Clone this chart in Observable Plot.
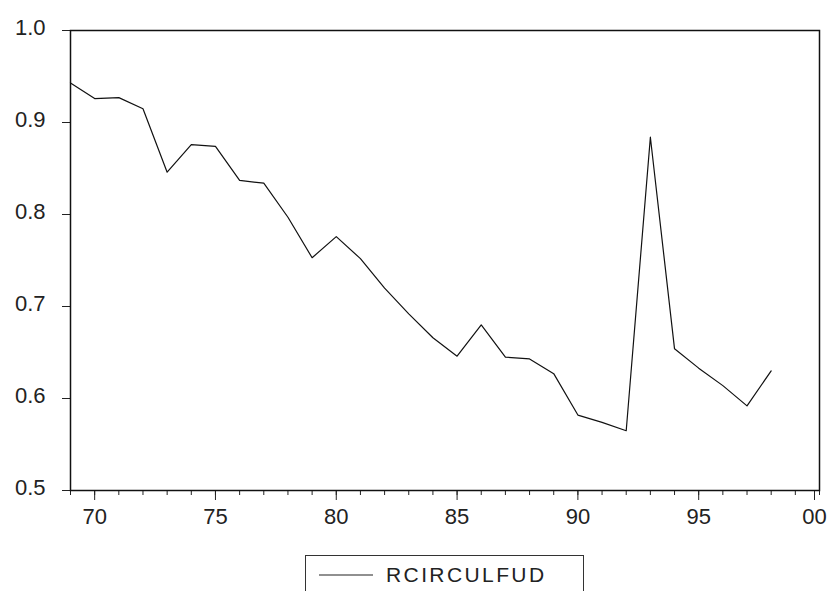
<!DOCTYPE html>
<html>
<head>
<meta charset="utf-8">
<script src="https://cdn.jsdelivr.net/npm/d3@7"></script>
<script src="https://cdn.jsdelivr.net/npm/@observablehq/plot@0.6"></script>
<style>
  html, body { margin: 0; padding: 0; background: #fff; }
  #wrap { position: relative; width: 829px; height: 591px; overflow: hidden; font-family: "Liberation Sans", Arial, sans-serif; }
  #chart svg { display: block; }
  #legend { position: absolute; left: 305px; top: 555px; width: 279px; height: 50px;
            border: 1px solid #333; border-bottom: none; box-sizing: border-box; }
  #legend svg { position: absolute; left: 13px; top: 14px; }
  #legend span { position: absolute; left: 80px; top: 7px; font-size: 21px; line-height: normal; color: #222; letter-spacing: 2.4px; white-space: nowrap; }
</style>
</head>
<body>
<div id="wrap"><div id="chart"></div>
<div id="legend"><svg width="56" height="10"><line x1="0" x2="54" y1="5" y2="5" stroke="#222" stroke-width="1.2"/></svg><span id="legtext"></span></div>
</div>
<script>
const years = [69,70,71,72,73,74,75,76,77,78,79,80,81,82,83,84,85,86,87,88,89,90,91,92,93,94,95,96,97,98];
const values = [0.943,0.926,0.927,0.915,0.846,0.876,0.874,0.837,0.834,0.797,0.753,0.776,0.752,0.720,0.692,0.666,0.646,0.680,0.645,0.643,0.627,0.582,0.574,0.565,0.884,0.654,0.633,0.614,0.592,0.630];
const seriesName = "RCIRCULFUD";
const minorTicks = [69,70,71,72,73,74,75,76,77,78,79,80,81,82,83,84,85,86,87,88,89,90,91,92,93,94,95,96,97,98,99,100];
const majorTicks = [70,75,80,85,90,95];
const majorLabels = ["70","75","80","85","90","95"];
const lastTick = [100];
const lastLabel = ["00"];
const yTicks = [0.5,0.6,0.7,0.8,0.9,1.0];
const yLabels = ["0.5","0.6","0.7","0.8","0.9","1.0"];

const data = years.map((y, i) => ({year: y, value: values[i]}));
document.getElementById("legtext").textContent = seriesName;
const yFmt = d => yLabels[yTicks.findIndex(t => Math.abs(t - d) < 1e-9)];

const chart = Plot.plot({
  width: 829,
  height: 540,
  marginLeft: 70,
  marginRight: 10,
  marginTop: 30,
  marginBottom: 50,
  style: {fontFamily: "'Liberation Sans', Arial, sans-serif", fontSize: "22px", color: "#222", background: "#fff"},
  x: {domain: [69, 100]},
  y: {domain: [0.5, 1.0]},
  marks: [
    Plot.axisX({ticks: minorTicks, tickSize: 5, tickFormat: () => "", label: null, stroke: "#222"}),
    Plot.axisX({ticks: majorTicks, tickSize: 10, tickPadding: 8, tickFormat: d => majorLabels[majorTicks.indexOf(d)], label: null, stroke: "#222", fill: "#222"}),
    Plot.axisX({ticks: lastTick, tickSize: 10, tickPadding: 8, dx: -5, tickFormat: d => lastLabel[lastTick.indexOf(d)], label: null, stroke: "#222", fill: "#222"}),
    Plot.axisY({ticks: yTicks, tickSize: 8, tickFormat: () => "", label: null, stroke: "#222"}),
    Plot.axisY({ticks: yTicks, tickSize: 0, tickPadding: 25, dy: -3, tickFormat: yFmt, label: null, fill: "#222"}),
    Plot.frame({stroke: "#111", strokeWidth: 1.5}),
    Plot.lineY(data, {x: "year", y: "value", stroke: "#111", strokeWidth: 1.2})
  ]
});
document.getElementById("chart").appendChild(chart);
</script>
</body>
</html>
